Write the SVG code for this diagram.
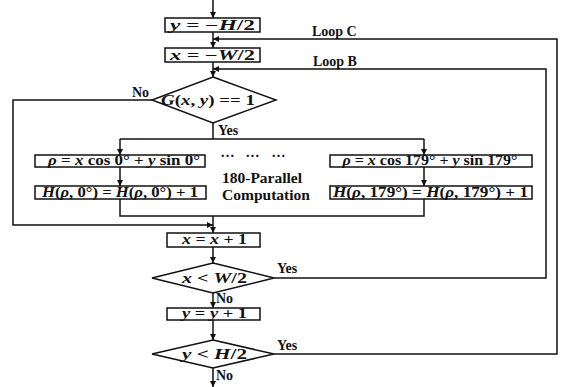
<svg xmlns="http://www.w3.org/2000/svg" width="567" height="387" viewBox="0 0 567 387">
<defs>
<style>
.ln{fill:none;stroke:#111;stroke-width:1.5}
.bx{fill:#fff;stroke:#111;stroke-width:1.5}
.m{font-family:"Liberation Serif",serif;font-size:14px;font-weight:bold;fill:#111}
.i{font-style:italic}
.lb{font-family:"Liberation Serif",serif;font-size:14px;font-weight:bold;fill:#111}
</style>
<marker id="ah" viewBox="0 0 8 8" refX="8" refY="4" markerWidth="6" markerHeight="6" markerUnits="userSpaceOnUse" orient="auto">
<path d="M0,0 L8,4 L0,8 Z" fill="#111"/>
</marker>
</defs>
<rect width="567" height="387" fill="#fff"/>
<g id="connectors">
<path class="ln" d="M213,0 V18" marker-end="url(#ah)"/>
<path class="ln" d="M213,32 V48" marker-end="url(#ah)"/>
<path class="ln" d="M213,62 V77" marker-end="url(#ah)"/>
<path class="ln" d="M213,123 V139"/>
<path class="ln" d="M120,139 H424"/>
<path class="ln" d="M120,139 V155" marker-end="url(#ah)"/>
<path class="ln" d="M424,139 V155" marker-end="url(#ah)"/>
<path class="ln" d="M120,167 V186" marker-end="url(#ah)"/>
<path class="ln" d="M424,167 V186" marker-end="url(#ah)"/>
<path class="ln" d="M120,199 V216 H424 V199"/>
<path class="ln" d="M213,216 V233" marker-end="url(#ah)"/>
<path class="ln" d="M152,100 H13 V225 H213" marker-end="url(#ah)"/>
<path class="ln" d="M213,247 V263" marker-end="url(#ah)"/>
<path class="ln" d="M213,293 V308" marker-end="url(#ah)"/>
<path class="ln" d="M213,320 V340" marker-end="url(#ah)"/>
<path class="ln" d="M213,368 V387" marker-end="url(#ah)"/>
<path class="ln" d="M274,278 H546 V69 H213" marker-end="url(#ah)"/>
<path class="ln" d="M274,354 H557 V39 H213" marker-end="url(#ah)"/>
</g>
<g id="init-y">
<rect class="bx" x="165" y="18" width="95" height="14"/>
<text class="m" x="212.5" y="29.5" text-anchor="middle" textLength="85" lengthAdjust="spacingAndGlyphs"><tspan class="i">y</tspan> = −<tspan class="i">H</tspan>/2</text>
</g>
<g id="init-x">
<rect class="bx" x="165" y="48" width="95" height="14"/>
<text class="m" x="212.5" y="59.5" text-anchor="middle" textLength="85" lengthAdjust="spacingAndGlyphs"><tspan class="i">x</tspan> = −<tspan class="i">W</tspan>/2</text>
</g>
<g id="test-g">
<polygon class="bx" points="213,77 276,100 213,123 152,100"/>
<text class="m" x="208" y="105" text-anchor="middle" textLength="94" lengthAdjust="spacingAndGlyphs"><tspan class="i">G</tspan>(<tspan class="i">x</tspan>, <tspan class="i">y</tspan>) == 1</text>
</g>
<g id="rho-0">
<rect class="bx" x="35" y="155" width="170" height="12"/>
<text class="m" x="124" y="165" text-anchor="middle" textLength="152" lengthAdjust="spacingAndGlyphs"><tspan class="i">ρ</tspan> = <tspan class="i">x</tspan> cos 0° + <tspan class="i">y</tspan> sin 0°</text>
</g>
<g id="h-0">
<rect class="bx" x="35" y="186" width="171" height="13"/>
<text class="m" x="120" y="197" text-anchor="middle" textLength="156" lengthAdjust="spacingAndGlyphs"><tspan class="i">H</tspan>(<tspan class="i">ρ</tspan>, 0°) = <tspan class="i">H</tspan>(<tspan class="i">ρ</tspan>, 0°) + 1</text>
</g>
<g id="rho-179">
<rect class="bx" x="330" y="155" width="202" height="12"/>
<text class="m" x="430" y="165" text-anchor="middle" textLength="175" lengthAdjust="spacingAndGlyphs"><tspan class="i">ρ</tspan> = <tspan class="i">x</tspan> cos 179° + <tspan class="i">y</tspan> sin 179°</text>
</g>
<g id="h-179">
<rect class="bx" x="330" y="186" width="202" height="13"/>
<text class="m" x="430.5" y="197" text-anchor="middle" textLength="195" lengthAdjust="spacingAndGlyphs"><tspan class="i">H</tspan>(<tspan class="i">ρ</tspan>, 179°) = <tspan class="i">H</tspan>(<tspan class="i">ρ</tspan>, 179°) + 1</text>
</g>
<g id="parallel-note">
<text class="lb" x="221" y="157" textLength="13" lengthAdjust="spacing">. . .</text>
<text class="lb" x="246" y="157" textLength="13" lengthAdjust="spacing">. . .</text>
<text class="lb" x="272" y="157" textLength="13" lengthAdjust="spacing">. . .</text>
<text class="lb" x="222" y="183" textLength="80" lengthAdjust="spacingAndGlyphs">180-Parallel</text>
<text class="lb" x="222" y="200" textLength="88" lengthAdjust="spacingAndGlyphs">Computation</text>
</g>
<g id="inc-x">
<rect class="bx" x="167" y="233" width="93" height="14"/>
<text class="m" x="214.5" y="244" text-anchor="middle" textLength="65" lengthAdjust="spacingAndGlyphs"><tspan class="i">x</tspan> = <tspan class="i">x</tspan> + 1</text>
</g>
<g id="test-x">
<polygon class="bx" points="213,263 274,278 213,293 152,278"/>
<text class="m" x="214.5" y="283" text-anchor="middle" textLength="65" lengthAdjust="spacingAndGlyphs"><tspan class="i">x</tspan> &lt; <tspan class="i">W</tspan>/2</text>
</g>
<g id="inc-y">
<rect class="bx" x="167" y="308" width="93" height="12"/>
<text class="m" x="214.5" y="318" text-anchor="middle" textLength="65" lengthAdjust="spacingAndGlyphs"><tspan class="i">y</tspan> = <tspan class="i">y</tspan> + 1</text>
</g>
<g id="test-y">
<polygon class="bx" points="213,340 274,354 213,368 152,354"/>
<text class="m" x="214.5" y="359" text-anchor="middle" textLength="65" lengthAdjust="spacingAndGlyphs"><tspan class="i">y</tspan> &lt; <tspan class="i">H</tspan>/2</text>
</g>
<g id="labels">
<text class="lb" x="312" y="36">Loop C</text>
<text class="lb" x="313" y="66">Loop B</text>
<text class="lb" x="132" y="97">No</text>
<text class="lb" x="218" y="135">Yes</text>
<text class="lb" x="277" y="273">Yes</text>
<text class="lb" x="216" y="303">No</text>
<text class="lb" x="277" y="350">Yes</text>
<text class="lb" x="216" y="380">No</text>
</g>
</svg>
